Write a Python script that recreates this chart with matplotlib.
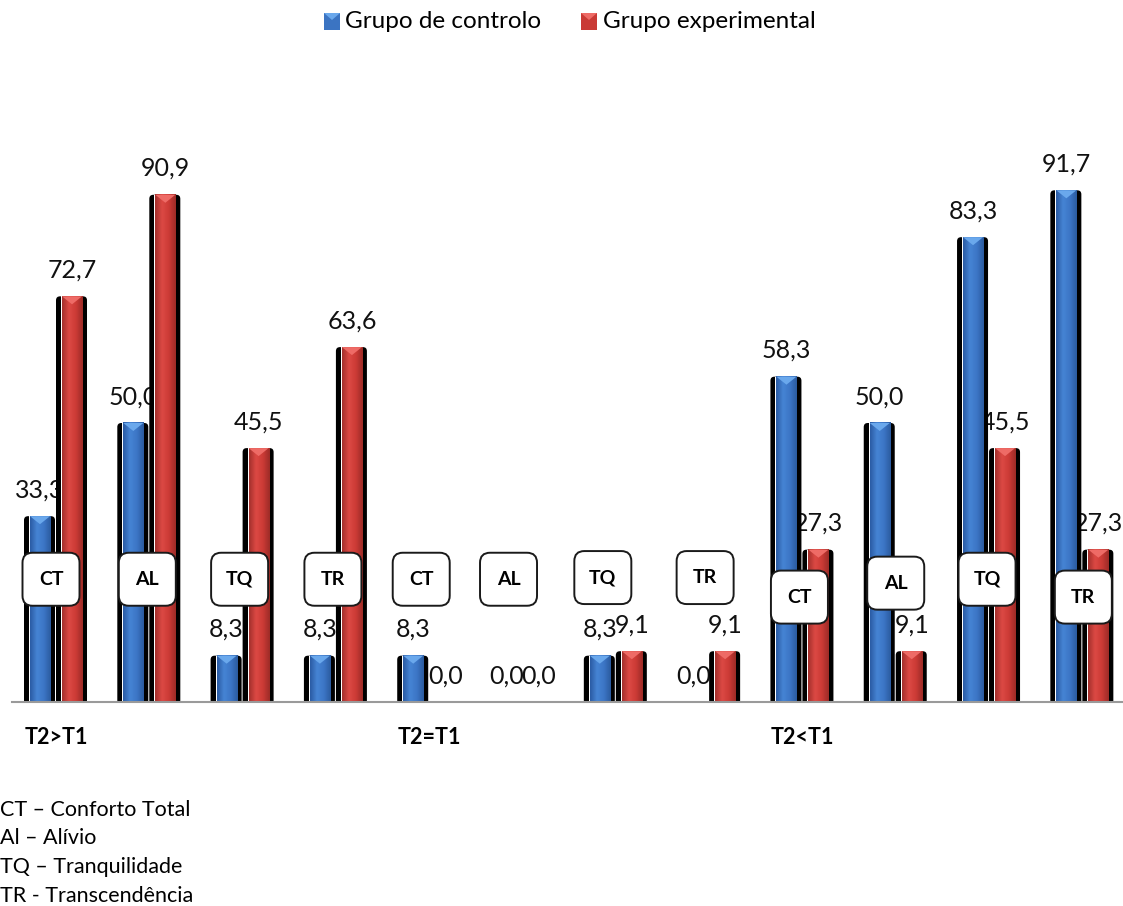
import matplotlib.pyplot as plt
import numpy as np
from matplotlib.patches import Rectangle, FancyBboxPatch, Polygon
from matplotlib.colors import LinearSegmentedColormap

plt.rcParams['font.family'] = ['Lato', 'DejaVu Sans']

# data: percentage of each group per comfort dimension
series_names = ['Grupo de controlo', 'Grupo experimental']
dimensions = ['CT', 'AL', 'TQ', 'TR', 'CT', 'AL', 'TQ', 'TR', 'CT', 'AL', 'TQ', 'TR']
comparisons = ['T2>T1', 'T2=T1', 'T2<T1']
controlo = [33.3, 50.0, 8.3, 8.3, 8.3, 0.0, 8.3, 0.0, 58.3, 50.0, 83.3, 91.7]
experimental = [72.7, 90.9, 45.5, 63.6, 0.0, 0.0, 9.1, 9.1, 27.3, 9.1, 45.5, 27.3]
footnote = ['CT – Conforto Total', 'Al – Alívio', 'TQ – Tranquilidade', 'TR - Transcendência']

# label boxes: horizontal shift (px) and height (value units) of each box
box_dx = [-5, -2, -3, -3, -8, -14, -13, -4, -3, 0, -2, 1]
box_y = [22, 22, 22, 22, 22, 22, 22.3, 22.3, 18.8, 21.3, 22, 18.8]

W, H = 1123, 906
fig = plt.figure(figsize=(W / 100, H / 100), dpi=100)
ax = fig.add_axes([12 / W, (H - 702) / H, 1110 / W, 558 / H])
ax.set_xlim(-0.4716, 11.425)
ax.set_ylim(0, 100)
ax.axis('off')

PX = 1 / 93.3   # one pixel in x units
PY = 1 / 5.58   # one pixel in y units
bar_w = 20 * PX
offset = 16 * PX

cmaps = {
    'b': LinearSegmentedColormap.from_list('b', ['#2a5ba3', '#4684d4', '#3c76c6', '#2b5b9f']),
    'r': LinearSegmentedColormap.from_list('r', ['#a3302c', '#dc4944', '#cc3b36', '#9c2b27']),
}
tops = {'b': '#6aa8ec', 'r': '#ee6b66'}
grad = np.linspace(0, 1, 64).reshape(1, -1)


def draw_bar(xc, h, key):
    x0 = xc - bar_w / 2
    # black rounded shadow, white gap, then the shaded bar
    ax.add_patch(FancyBboxPatch((x0 - 6 * PX, -0.45), bar_w + 11 * PX, h + 0.45,
                                boxstyle=f'round,pad=0,rounding_size={4 * PX}',
                                mutation_aspect=PY / PX, fc='black', ec='none', zorder=2))
    ax.add_patch(Rectangle((x0 - PX, -0.3), bar_w + 2 * PX, h + 0.3, fc='white', ec='none', zorder=2.5))
    ax.imshow(grad, extent=(x0, x0 + bar_w, 0, h), cmap=cmaps[key], aspect='auto',
              interpolation='bicubic', zorder=3)
    ax.add_patch(Polygon([(x0, h), (x0 + bar_w, h), (xc, h - 8 * PY)], closed=True,
                         fc=tops[key], ec='none', zorder=4))


def fmt(v):
    return f'{v:.1f}'.replace('.', ',')


for i in range(len(dimensions)):
    for key, vals, sign in (('b', controlo, -1), ('r', experimental, 1)):
        xc = i + sign * offset
        v = vals[i]
        if v > 0:
            draw_bar(xc, v, key)
        ax.text(xc, v + 4.7, fmt(v), ha='center', va='center', fontsize=18, color='#111111', zorder=1)

    bx = i + box_dx[i] * PX
    bw, bh = 57 * PX, 53 * PY
    ax.add_patch(FancyBboxPatch((bx - bw / 2, box_y[i] - bh / 2), bw, bh,
                                boxstyle=f'round,pad=0,rounding_size={10 * PX}',
                                mutation_aspect=PY / PX, fc='white', ec='#1a1a1a',
                                lw=1.4, zorder=7))
    ax.text(bx, box_y[i], dimensions[i], ha='center', va='center', fontsize=14,
            fontweight='bold', zorder=8)

ax.plot([-0.4716, 11.425], [0, 0], color='#9a9a9a', lw=1.5, zorder=6, clip_on=False)

for k, name in enumerate(comparisons):
    ax.text(4 * k, -6.3, name, ha='center', va='center', fontsize=15.5, fontweight='bold',
            clip_on=False)

# legend at the top
for x_sq, x_txt, col, top, name in ((324, 345, '#3b74c2', '#6aa8ec', series_names[0]),
                                     (581, 603, '#c93a35', '#ee6b66', series_names[1])):
    fig.add_artist(Rectangle((x_sq / W, 1 - 30 / H), 16 / W, 17 / H, transform=fig.transFigure,
                             fc=col, ec='none'))
    fig.add_artist(Polygon([(x_sq / W, 1 - 13 / H), ((x_sq + 16) / W, 1 - 13 / H),
                            ((x_sq + 8) / W, 1 - 20 / H)], transform=fig.transFigure,
                           fc=top, ec='none'))
    fig.text(x_txt / W, 1 - 22 / H, name, ha='left', va='center', fontsize=17.5)

for k, line in enumerate(footnote):
    fig.text(0, 1 - (810 + 28.5 * k) / H, line, ha='left', va='center', fontsize=15.5)

fig.savefig('out.png', dpi=100)
